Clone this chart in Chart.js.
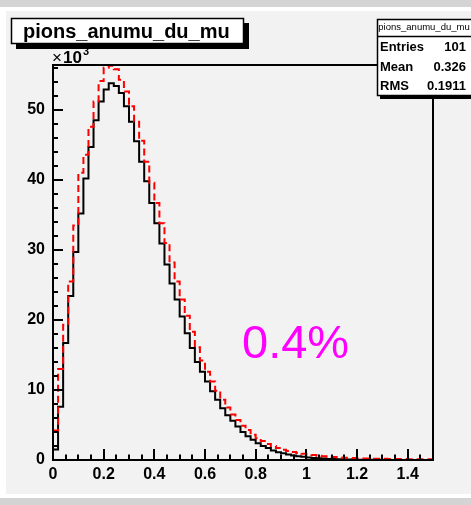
<!DOCTYPE html>
<html>
<head>
<meta charset="utf-8">
<script src="https://cdn.jsdelivr.net/npm/chart.js@4/dist/chart.umd.min.js"></script>
<style>
  html, body { margin: 0; padding: 0; background: #ffffff; }
  canvas { display: block; }
</style>
</head>
<body>
<canvas id="c" width="471" height="505"></canvas>
<script>
// ---- data (counts in units of 10^3, bin width 0.02 from 0 to 1.5) ----
const HIST_TITLE = "pions_anumu_du_mu";
const BIN_WIDTH = 0.02;
const X_MIN = 0, X_MAX = 1.5;
const Y_MIN = 0, Y_MAX = 56.4;
const xTickLabels = [0, 0.2, 0.4, 0.6, 0.8, 1, 1.2, 1.4];
const yTickLabels = [0, 10, 20, 30, 40, 50];
const statNames = ["Entries", "Mean", "RMS"];
const statValues = ["101", "0.326", "0.1911"];
const annotationText = "0.4%";

const blackCounts = [1.5, 7.6, 16.7, 23.4, 29.7, 35.2, 40.2, 44.7, 48.5, 51.2,
  52.9, 53.8, 53.4, 52.4, 50.5, 48.3, 45.5, 42.6, 39.8, 36.7,
  33.8, 30.9, 27.9, 25.2, 22.9, 20.5, 18.1, 16.0, 14.0, 12.6,
  11.2, 9.8, 8.6, 7.4, 6.4, 5.6, 4.8, 4.0, 3.4, 2.9,
  2.4, 2.0, 1.7, 1.35, 1.1, 0.95, 0.8, 0.65, 0.55, 0.45,
  0.37, 0.3, 0.25, 0.2, 0.16, 0.13, 0.1, 0.08, 0.07, 0.05,
  0.04, 0.03, 0.03, 0.02, 0.02, 0.02, 0.01, 0.01, 0.01, 0.01,
  0.01, 0, 0.01, 0, 0];

const redCounts = [4.2, 13.0, 19.3, 25.5, 33.5, 41.0, 43.6, 47.6, 51.2, 54.1,
  56.0, 56.3, 55.8, 54.3, 52.6, 50.5, 48.3, 45.6, 42.6, 39.6,
  36.7, 33.8, 31.0, 28.2, 25.5, 22.9, 20.6, 18.3, 16.1, 14.2,
  12.6, 11.2, 9.9, 8.6, 7.5, 6.5, 5.7, 4.9, 4.3, 3.6,
  3.1, 2.7, 2.3, 2.0, 1.7, 1.45, 1.3, 1.15, 1.0, 0.9,
  0.8, 0.7, 0.62, 0.55, 0.48, 0.42, 0.37, 0.33, 0.3, 0.27,
  0.24, 0.22, 0.2, 0.19, 0.18, 0.17, 0.16, 0.15, 0.14, 0.13,
  0.12, 0.11, 0.1, 0.1, 0.09];

function histPoints(vals) {
  const pts = vals.map((v, i) => ({ x: +(i * BIN_WIDTH).toFixed(4), y: v }));
  pts.push({ x: +(vals.length * BIN_WIDTH).toFixed(4), y: vals[vals.length - 1] });
  return pts;
}

const FONT = "'Liberation Sans', Arial, Helvetica, sans-serif";

const decor = {
  id: 'decor',
  beforeDraw(chart) {
    const c = chart.ctx;
    c.save();
    c.fillStyle = '#d4d4d4';
    c.fillRect(0, 0, 471, 505);
    c.fillStyle = '#ffffff';
    c.fillRect(0, 7, 471, 491);
    c.fillStyle = '#f2f2f2';
    c.fillRect(6, 11, 465, 483);
    c.restore();
  },
  afterDatasetsDraw(chart) {
    const c = chart.ctx;
    const xs = chart.scales.x, ys = chart.scales.y;
    const a = chart.chartArea;
    c.save();
    // ticks inward
    c.strokeStyle = '#000';
    c.lineWidth = 2;
    c.beginPath();
    for (let i = 0; i <= 30; i++) {
      const v = i * 0.05;
      const px = Math.round(xs.getPixelForValue(v));
      const len = (i % 4 === 0) ? 11 : 5.5;
      c.moveTo(px, a.bottom);
      c.lineTo(px, a.bottom - len);
    }
    for (let i = 0; i <= 28; i++) {
      const v = i * 2;
      if (v > Y_MAX) break;
      const py = Math.round(ys.getPixelForValue(v));
      const len = (i % 5 === 0) ? 10 : 5;
      c.moveTo(a.left, py);
      c.lineTo(a.left + len, py);
    }
    c.stroke();
    // frame
    c.lineWidth = 2;
    c.strokeRect(a.left, a.top, a.right - a.left, a.bottom - a.top);

    // x10^3 label
    c.fillStyle = '#000';
    c.textBaseline = 'alphabetic';
    c.textAlign = 'left';
    c.font = '17px ' + FONT;
    c.fillText('\u00d7', a.left - 1, a.top - 2);
    c.font = 'bold 17px ' + FONT;
    c.fillText('10', a.left + 10, a.top - 2);
    c.font = 'bold 11px ' + FONT;
    c.fillText('3', a.left + 30, a.top - 10);

    // title box with shadow
    c.fillStyle = '#000';
    c.fillRect(16, 23, 233, 26);
    c.fillStyle = '#ffffff';
    c.fillRect(11, 18, 233, 26);
    c.lineWidth = 1.5;
    c.strokeStyle = '#000';
    c.strokeRect(11.5, 18.5, 232, 25);
    c.fillStyle = '#000';
    c.font = 'bold 20px ' + FONT;
    c.textBaseline = 'alphabetic';
    c.fillText(HIST_TITLE, 23, 38);

    // stats box
    c.fillStyle = '#000';
    c.fillRect(380, 22, 95, 77);
    c.fillStyle = '#ffffff';
    c.fillRect(377, 19, 95, 77);
    c.lineWidth = 1.5;
    c.strokeRect(377.5, 19.5, 95, 76);
    c.beginPath();
    c.moveTo(377, 36.5); c.lineTo(471, 36.5);
    c.stroke();
    c.fillStyle = '#000';
    c.font = '9.5px ' + FONT;
    c.textAlign = 'center';
    c.textBaseline = 'middle';
    c.fillText(HIST_TITLE, 424, 27.5);
    c.font = 'bold 13px ' + FONT;
    const rowY = [47, 67, 86.5];
    for (let i = 0; i < statNames.length; i++) {
      c.textAlign = 'left';
      c.fillText(statNames[i], 380, rowY[i]);
      c.textAlign = 'right';
      c.fillText(statValues[i], 466, rowY[i]);
    }

    // annotation
    c.fillStyle = '#ff00ff';
    c.font = '47px ' + FONT;
    c.textAlign = 'left';
    c.textBaseline = 'alphabetic';
    c.fillText(annotationText, xs.getPixelForValue(0.746), ys.getPixelForValue(14.6));
    c.restore();
  }
};

new Chart(document.getElementById('c'), {
  type: 'line',
  data: {
    datasets: [
      { label: 'red', data: histPoints(redCounts), borderColor: '#ff0000', borderWidth: 2,
        borderDash: [7, 4], stepped: true, pointRadius: 0, fill: false, order: 0 },
      { label: 'black', data: histPoints(blackCounts), borderColor: '#000000', borderWidth: 2,
        stepped: true, pointRadius: 0, fill: false, order: 1 }
    ]
  },
  options: {
    responsive: false,
    animation: false,
    devicePixelRatio: 1,
    layout: { padding: { top: 65, right: 38, left: 0, bottom: 0 } },
    plugins: { legend: { display: false }, tooltip: { enabled: false }, title: { display: false } },
    scales: {
      x: {
        type: 'linear', min: X_MIN, max: X_MAX,
        grid: { display: false, drawTicks: false },
        border: { display: false },
        afterBuildTicks: s => { s.ticks = xTickLabels.map(v => ({ value: v })); },
        afterFit: s => { s.height = 45; },
        ticks: {
          autoSkip: false, maxRotation: 0, padding: 5, color: '#000',
          font: { family: FONT, weight: 'bold', size: 16 },
          callback: v => String(Math.round(v * 10) / 10)
        }
      },
      y: {
        type: 'linear', min: Y_MIN, max: Y_MAX,
        grid: { display: false, drawTicks: false },
        border: { display: false },
        afterBuildTicks: s => { s.ticks = yTickLabels.map(v => ({ value: v })); },
        afterFit: s => { s.width = 53; },
        ticks: {
          autoSkip: false, padding: 8, color: '#000',
          font: { family: FONT, weight: 'bold', size: 16 },
          callback: v => String(v)
        }
      }
    }
  },
  plugins: [decor]
});
</script>
</body>
</html>
